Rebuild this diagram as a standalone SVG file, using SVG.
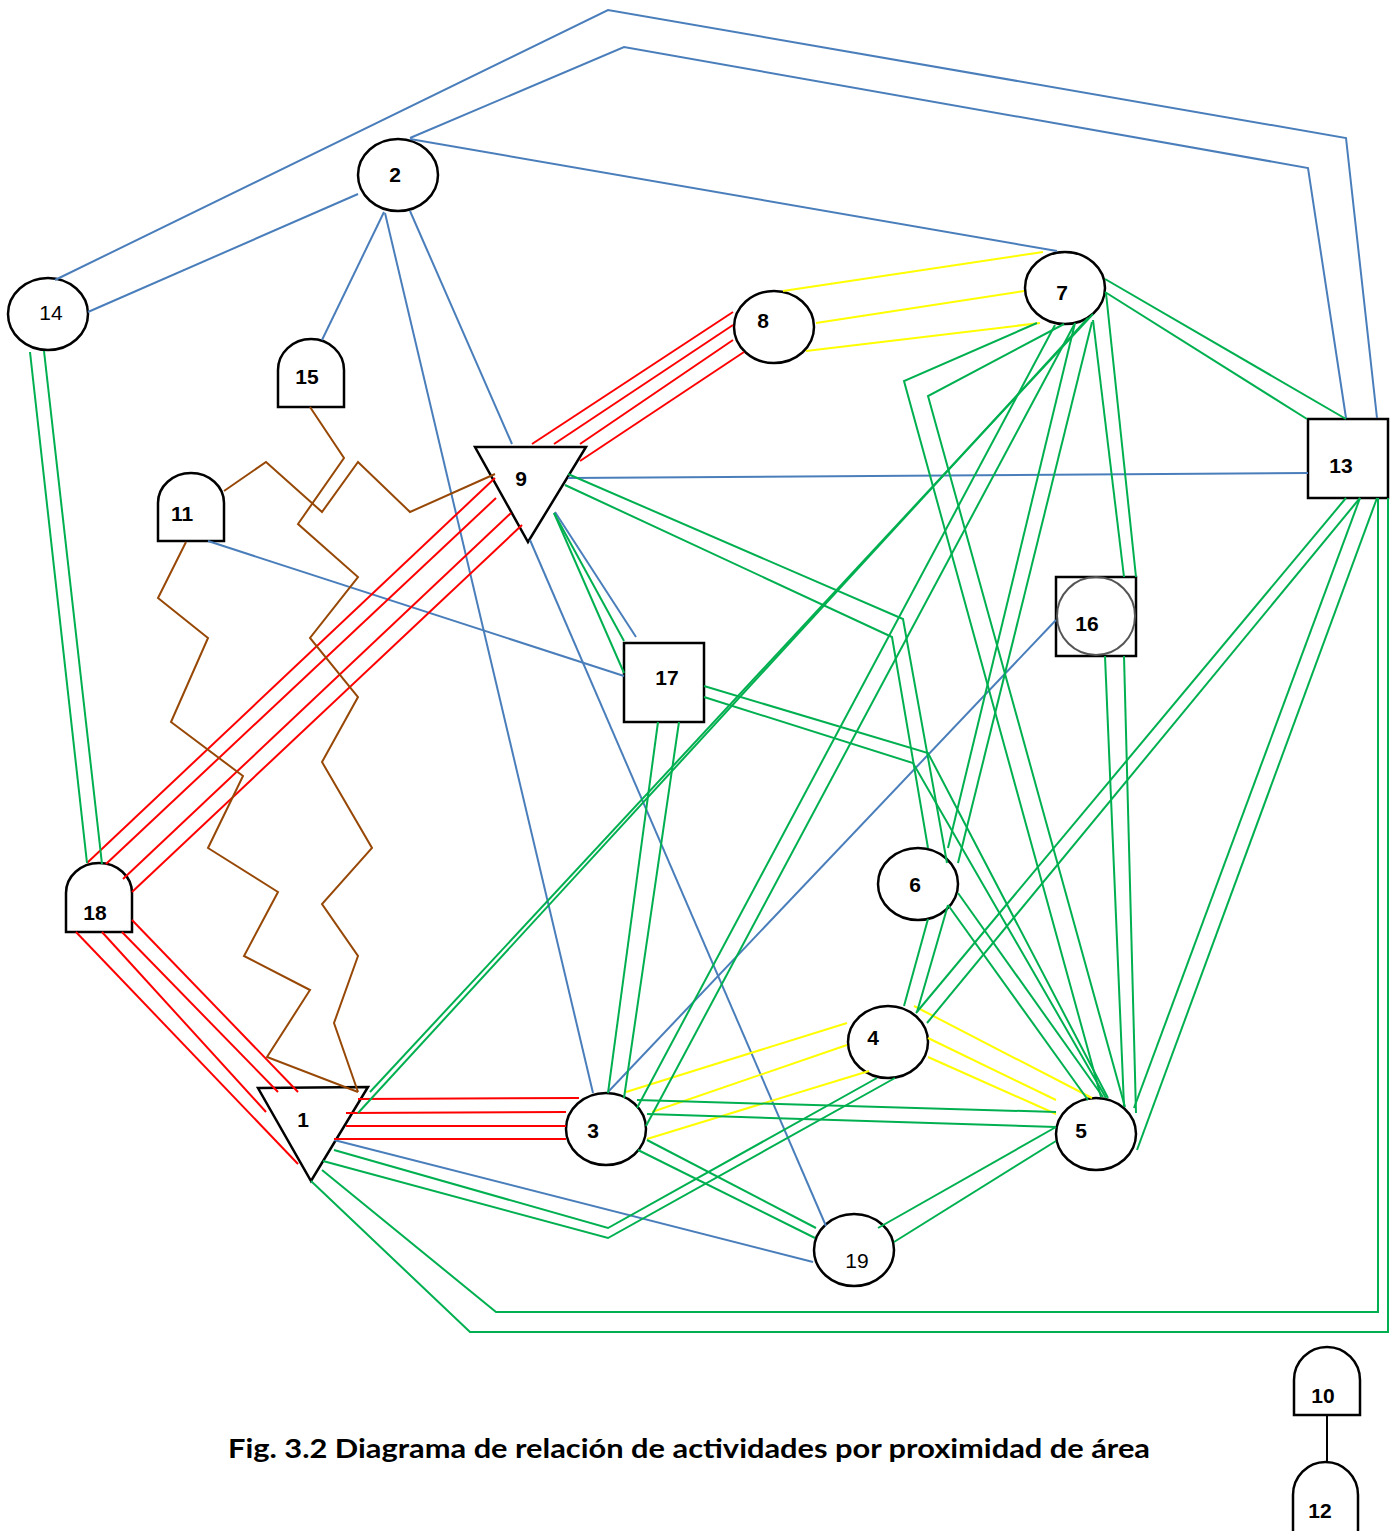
<svg xmlns="http://www.w3.org/2000/svg" width="1398" height="1531" viewBox="0 0 1398 1531">
<style>
.nd{fill:#fff;stroke:#000;stroke-width:2.5}
.lb{font-family:"Liberation Sans",Arial,sans-serif;font-size:21px;font-weight:bold;text-anchor:middle;fill:#000}
.lr{font-family:"Liberation Sans",Arial,sans-serif;font-size:21px;text-anchor:middle;fill:#000}
.c{fill:none;stroke-width:2;stroke-linejoin:miter}
.b{stroke:#4A7EBB}
.r{stroke:#FF0000}
.y{stroke:#FFFF00}
.g{stroke:#00B050}
.n{stroke:#974806}
.k{stroke:#000}
.cap{font-family:Lato,"Liberation Sans",sans-serif;font-size:26px;font-weight:bold;fill:#000}
</style>
<rect width="1398" height="1531" fill="#fff"/>
<g id="nodes">
<g id="n2"><ellipse class="nd" cx="398" cy="175" rx="40" ry="36"/><text class="lb" x="395" y="182">2</text></g>
<g id="n14"><ellipse class="nd" cx="48" cy="314" rx="40" ry="36"/><text class="lr" x="51" y="320">14</text></g>
<g id="n15"><path class="nd" d="M278,407 L278,370 A33,31 0 0 1 344,370 L344,407 Z"/><text class="lb" x="307" y="384">15</text></g>
<g id="n11"><path class="nd" d="M158,541 L158,503 A33,30 0 0 1 224,503 L224,541 Z"/><text class="lb" x="182" y="521">11</text></g>
<g id="n18"><path class="nd" d="M66,932 L66,893 A33,30 0 0 1 132,893 L132,932 Z"/><text class="lb" x="95" y="920">18</text></g>
<g id="n9"><path class="nd" d="M475,447 L586,447 L528,542 Z"/><text class="lb" x="521" y="486">9</text></g>
<g id="n8"><ellipse class="nd" cx="774" cy="327" rx="40" ry="36"/><text class="lb" x="763" y="328">8</text></g>
<g id="n7"><ellipse class="nd" cx="1065" cy="288" rx="40" ry="36"/><text class="lb" x="1062" y="300">7</text></g>
<g id="n13"><rect class="nd" x="1308" y="419" width="80" height="79"/><text class="lb" x="1341" y="473">13</text></g>
<g id="n16"><rect class="nd" x="1056" y="577" width="80" height="79"/><circle cx="1096" cy="616" r="39" fill="none" stroke="#555" stroke-width="2"/><text class="lb" x="1087" y="631">16</text></g>
<g id="n17"><rect class="nd" x="624" y="643" width="80" height="79"/><text class="lb" x="667" y="685">17</text></g>
<g id="n6"><ellipse class="nd" cx="918" cy="884" rx="40" ry="36"/><text class="lb" x="915" y="892">6</text></g>
<g id="n4"><ellipse class="nd" cx="888" cy="1042" rx="40" ry="36"/><text class="lb" x="873" y="1045">4</text></g>
<g id="n3"><ellipse class="nd" cx="606" cy="1129" rx="40" ry="36"/><text class="lb" x="593" y="1138">3</text></g>
<g id="n19"><ellipse class="nd" cx="854" cy="1250" rx="40" ry="36"/><text class="lr" x="857" y="1268">19</text></g>
<g id="n5"><ellipse class="nd" cx="1096" cy="1134" rx="40" ry="36"/><text class="lb" x="1081" y="1138">5</text></g>
<g id="n1"><path class="nd" d="M258,1088 L368,1087 L311,1181 Z"/><text class="lb" x="303" y="1127">1</text></g>
<g id="n10"><path class="nd" d="M1294,1415 L1294,1380 A33,33 0 0 1 1360,1380 L1360,1415 Z"/><text class="lb" x="1323" y="1403">10</text></g>
<g id="n12"><path class="nd" d="M1293,1531 L1293,1495 A32.5,33 0 0 1 1358,1495 L1358,1531"/><text class="lb" x="1320" y="1518">12</text></g>
</g>
<g id="connectors">
<polyline class="c b" points="55,280 608,10 1346,138 1377,418"/>
<polyline class="c b" points="410,138 624,47 1308,168 1346,418"/>
<polyline class="c b" points="88,312 358,194"/>
<polyline class="c b" points="410,139 1057,251"/>
<polyline class="c b" points="384,212 322,340"/>
<polyline class="c b" points="385,213 593,1093"/>
<polyline class="c b" points="410,211 512,444"/>
<polyline class="c b" points="568,478 1308,473"/>
<polyline class="c b" points="555,512 636,637"/>
<polyline class="c b" points="530,540 826,1226"/>
<polyline class="c b" points="208,541 624,676"/>
<polyline class="c b" points="1056,620 608,1092"/>
<polyline class="c b" points="334,1140 813,1262"/>

<polyline class="c r" points="733,312 532,444"/>
<polyline class="c r" points="733,325 554,444"/>
<polyline class="c r" points="733,340 580,444"/>
<polyline class="c r" points="744,352 580,461"/>
<polyline class="c r" points="495,478 87,863"/>
<polyline class="c r" points="496,498 106,864"/>
<polyline class="c r" points="511,513 123,879"/>
<polyline class="c r" points="522,525 132,892"/>
<polyline class="c r" points="76,932 298,1164"/>
<polyline class="c r" points="102,932 266,1112"/>
<polyline class="c r" points="122,932 278,1092"/>
<polyline class="c r" points="132,920 298,1092"/>
<polyline class="c r" points="358,1099 579,1098"/>
<polyline class="c r" points="346,1113 566,1112"/>
<polyline class="c r" points="346,1126 566,1126"/>
<polyline class="c r" points="334,1139 566,1139"/>

<polyline class="c y" points="783,291 1043,252"/>
<polyline class="c y" points="816,323 1024,291"/>
<polyline class="c y" points="806,351 1040,323"/>
<polyline class="c y" points="847,1023 626,1092"/>
<polyline class="c y" points="847,1045 652,1112"/>
<polyline class="c y" points="869,1071 647,1139"/>
<polyline class="c y" points="914,1006 1092,1098"/>
<polyline class="c y" points="928,1038 1056,1100"/>
<polyline class="c y" points="928,1057 1056,1114"/>

<polyline class="c g" points="30,352 87,863"/>
<polyline class="c g" points="44,351 102,864"/>
<polyline class="c g" points="1105,279 1346,419"/>
<polyline class="c g" points="1105,292 1307,419"/>
<polyline class="c g" points="1093,320 1124,577"/>
<polyline class="c g" points="1106,293 1136,577"/>
<polyline class="c g" points="1105,656 1124,1106"/>
<polyline class="c g" points="1124,656 1136,1113"/>
<polyline class="c g" points="1346,498 916,1013"/>
<polyline class="c g" points="1360,498 927,1023"/>
<polyline class="c g" points="1360,498 1134,1108"/>
<polyline class="c g" points="1377,498 1137,1150"/>
<polyline class="c g" points="1378,498 1378,1312 496,1312 322,1170"/>
<polyline class="c g" points="1388,498 1388,1332 470,1332 311,1181"/>
<polyline class="c g" points="334,1150 608,1228 877,1078"/>
<polyline class="c g" points="323,1161 608,1238 895,1078"/>
<polyline class="c g" points="370,1092 1093,314"/>
<polyline class="c g" points="358,1113 1088,318"/>
<polyline class="c g" points="1055,325 637,1108"/>
<polyline class="c g" points="1074,325 646,1126"/>
<polyline class="c g" points="1075,323 948,848"/>
<polyline class="c g" points="1092,322 958,863"/>
<polyline class="c g" points="1037,323 904,381 1101,1097"/>
<polyline class="c g" points="1064,324 928,396 1125,1107"/>
<polyline class="c g" points="568,474 903,619 947,863"/>
<polyline class="c g" points="565,485 892,637 928,848"/>
<polyline class="c g" points="554,513 624,641"/>
<polyline class="c g" points="554,513 624,673"/>
<polyline class="c g" points="658,722 608,1093"/>
<polyline class="c g" points="679,722 624,1098"/>
<polyline class="c g" points="704,686 928,753 1108,1098"/>
<polyline class="c g" points="704,697 913,763 1106,1098"/>
<polyline class="c g" points="958,893 1103,1097"/>
<polyline class="c g" points="948,905 1088,1100"/>
<polyline class="c g" points="928,919 904,1006"/>
<polyline class="c g" points="948,905 917,1012"/>
<polyline class="c g" points="637,1100 1056,1112"/>
<polyline class="c g" points="647,1114 1056,1127"/>
<polyline class="c g" points="647,1140 816,1228"/>
<polyline class="c g" points="638,1150 815,1238"/>
<polyline class="c g" points="878,1228 1056,1127"/>
<polyline class="c g" points="894,1242 1056,1141"/>

<polyline class="c n" points="224,491 266,462 322,512 358,462 410,512 495,474"/>
<polyline class="c n" points="310,407 344,458 298,524 358,577 310,638 358,697 322,762 372,848 322,904 358,956 334,1023 358,1092"/>
<polyline class="c n" points="186,542 158,598 208,638 171,722 243,776 208,848 278,892 244,956 310,990 267,1057 358,1092"/>

<polyline class="c k" points="1327,1415 1327,1462"/>
</g>
<text class="cap" x="228" y="1458" textLength="922" lengthAdjust="spacingAndGlyphs">Fig. 3.2 Diagrama de relación de actividades por proximidad de área</text>
</svg>
